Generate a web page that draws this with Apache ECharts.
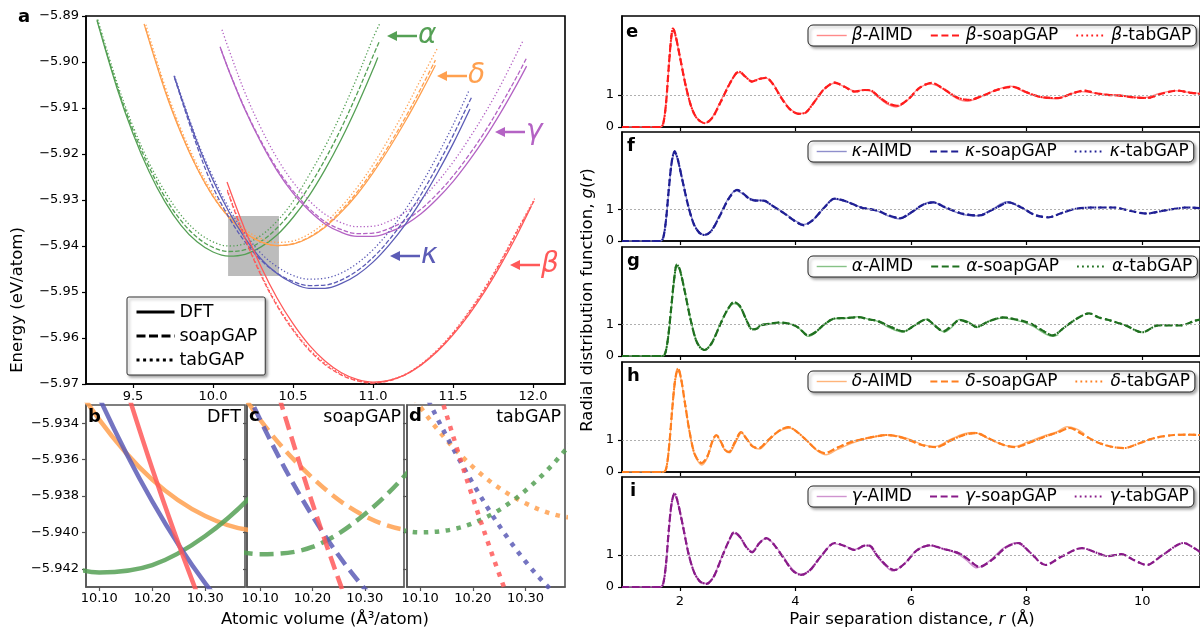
<!DOCTYPE html>
<html>
<head>
<meta charset="utf-8">
<script src="https://cdn.jsdelivr.net/npm/echarts@6/dist/echarts.min.js"></script>
<style>html,body{margin:0;padding:0;background:#fff}#c{width:1200px;height:631px}</style>
</head>
<body>
<div id="c"></div>
<script>
// ---------- Panel a-d : energy vs atomic volume, [V (A^3/atom), E (eV/atom)] ----------
const alphaDFT = [[9.275,-5.8910],[9.4,-5.9057],[9.5,-5.9156],[9.6,-5.9238],[9.7,-5.9304],[9.8,-5.9355],[9.9,-5.9391],[10.0,-5.9413],[10.1,-5.9422],[10.2,-5.9418],[10.3,-5.9402],[10.4,-5.9376],[10.5,-5.9338],[10.6,-5.9291],[10.7,-5.9234],[10.8,-5.9169],[10.9,-5.9096],[11.0,-5.9016],[11.03,-5.8990]];
const alphaSoap = [[9.275,-5.8908],[9.4,-5.9052],[9.5,-5.9148],[9.6,-5.9228],[9.7,-5.9294],[9.8,-5.9345],[9.9,-5.9381],[10.0,-5.9403],[10.1,-5.9412],[10.2,-5.9408],[10.3,-5.9390],[10.4,-5.9361],[10.5,-5.9321],[10.6,-5.9271],[10.7,-5.9212],[10.8,-5.9145],[10.9,-5.9069],[11.0,-5.8987],[11.04,-5.8955]];
const alphaTab = [[9.28,-5.8908],[9.4,-5.9045],[9.5,-5.9140],[9.6,-5.9219],[9.7,-5.9282],[9.8,-5.9333],[9.9,-5.9369],[10.0,-5.9391],[10.1,-5.9400],[10.2,-5.9395],[10.3,-5.9377],[10.4,-5.9346],[10.5,-5.9303],[10.6,-5.9246],[10.7,-5.9184],[10.8,-5.9113],[10.9,-5.9034],[11.0,-5.8948],[11.04,-5.8918]];

const deltaDFT = [[9.569,-5.8917],[9.7,-5.9063],[9.8,-5.9155],[9.9,-5.9231],[10.0,-5.9292],[10.1,-5.9338],[10.2,-5.9371],[10.3,-5.9391],[10.4,-5.9399],[10.5,-5.9396],[10.6,-5.9382],[10.7,-5.9359],[10.8,-5.9327],[10.9,-5.9288],[11.0,-5.9241],[11.1,-5.9188],[11.2,-5.9130],[11.3,-5.9067],[11.39,-5.9007]];
const deltaSoap = [[9.58,-5.8928],[9.7,-5.9060],[9.8,-5.9153],[9.9,-5.9230],[10.0,-5.9292],[10.1,-5.9338],[10.2,-5.9370],[10.3,-5.9391],[10.4,-5.9399],[10.5,-5.9395],[10.6,-5.9381],[10.7,-5.9357],[10.8,-5.9323],[10.9,-5.9283],[11.0,-5.9235],[11.1,-5.9181],[11.2,-5.9122],[11.3,-5.9057],[11.39,-5.8996]];
const deltaTab = [[9.58,-5.8919],[9.7,-5.9053],[9.8,-5.9146],[9.9,-5.9223],[10.0,-5.9285],[10.1,-5.9331],[10.2,-5.9364],[10.3,-5.9384],[10.4,-5.9392],[10.5,-5.9389],[10.6,-5.9374],[10.7,-5.9349],[10.8,-5.9315],[10.9,-5.9273],[11.0,-5.9223],[11.1,-5.9166],[11.2,-5.9104],[11.3,-5.9037],[11.4,-5.8972]];

const gammaDFT = [[10.044,-5.8967],[10.1,-5.9020],[10.2,-5.9104],[10.3,-5.9175],[10.4,-5.9236],[10.5,-5.9285],[10.6,-5.9323],[10.7,-5.9352],[10.8,-5.9370],[10.9,-5.9379],[11.0,-5.9379],[11.1,-5.9370],[11.2,-5.9354],[11.3,-5.9330],[11.4,-5.9298],[11.5,-5.9260],[11.6,-5.9215],[11.7,-5.9165],[11.8,-5.9109],[11.9,-5.9048],[11.96,-5.9009]];
const gammaSoap = [[10.05,-5.8973],[10.1,-5.9019],[10.2,-5.9102],[10.3,-5.9172],[10.4,-5.9232],[10.5,-5.9280],[10.6,-5.9318],[10.7,-5.9347],[10.8,-5.9364],[10.9,-5.9373],[11.0,-5.9372],[11.1,-5.9362],[11.2,-5.9345],[11.3,-5.9320],[11.4,-5.9287],[11.5,-5.9248],[11.6,-5.9202],[11.7,-5.9151],[11.8,-5.9093],[11.9,-5.9031],[11.96,-5.8991]];
const gammaTab = [[10.056,-5.8930],[10.1,-5.8974],[10.2,-5.9067],[10.3,-5.9144],[10.4,-5.9209],[10.5,-5.9261],[10.6,-5.9301],[10.7,-5.9331],[10.8,-5.9349],[10.9,-5.9358],[11.0,-5.9357],[11.1,-5.9346],[11.2,-5.9327],[11.3,-5.9299],[11.4,-5.9262],[11.5,-5.9218],[11.6,-5.9167],[11.7,-5.9111],[11.8,-5.9049],[11.94,-5.8952]];

const kappaDFT = [[9.756,-5.9030],[9.9,-5.9174],[10.0,-5.9257],[10.1,-5.9326],[10.2,-5.9383],[10.3,-5.9428],[10.4,-5.9460],[10.5,-5.9481],[10.6,-5.9492],[10.7,-5.9492],[10.8,-5.9482],[10.9,-5.9463],[11.0,-5.9435],[11.1,-5.9398],[11.2,-5.9354],[11.3,-5.9302],[11.4,-5.9243],[11.5,-5.9178],[11.606,-5.9102]];
const kappaSoap = [[9.76,-5.9035],[9.9,-5.9183],[10.0,-5.9272],[10.1,-5.9338],[10.2,-5.9391],[10.3,-5.9431],[10.4,-5.9459],[10.5,-5.9477],[10.6,-5.9486],[10.7,-5.9485],[10.8,-5.9474],[10.9,-5.9454],[11.0,-5.9425],[11.1,-5.9387],[11.2,-5.9341],[11.3,-5.9288],[11.4,-5.9227],[11.5,-5.9160],[11.6,-5.9088],[11.62,-5.9074]];
const kappaTab = [[9.76,-5.9031],[9.9,-5.9170],[10.0,-5.9250],[10.1,-5.9318],[10.2,-5.9373],[10.3,-5.9416],[10.4,-5.9445],[10.5,-5.9464],[10.6,-5.9472],[10.7,-5.9470],[10.8,-5.9459],[10.9,-5.9438],[11.0,-5.9408],[11.1,-5.9369],[11.2,-5.9322],[11.3,-5.9267],[11.4,-5.9205],[11.5,-5.9137],[11.6,-5.9062]];

const betaDFT = [[10.0875,-5.9261],[10.2,-5.9365],[10.3,-5.9445],[10.4,-5.9513],[10.5,-5.9569],[10.6,-5.9615],[10.7,-5.9650],[10.8,-5.9675],[10.9,-5.9690],[11.0,-5.9696],[11.1,-5.9692],[11.2,-5.9680],[11.3,-5.9659],[11.4,-5.9630],[11.5,-5.9593],[11.6,-5.9549],[11.7,-5.9498],[11.8,-5.9440],[11.9,-5.9376],[11.99,-5.9313]];
const betaSoap = [[10.09,-5.9281],[10.2,-5.9384],[10.3,-5.9464],[10.4,-5.9530],[10.5,-5.9583],[10.6,-5.9626],[10.7,-5.9658],[10.8,-5.9680],[10.9,-5.9693],[11.0,-5.9698],[11.1,-5.9693],[11.2,-5.9680],[11.3,-5.9658],[11.4,-5.9628],[11.5,-5.9590],[11.6,-5.9545],[11.7,-5.9493],[11.8,-5.9434],[11.9,-5.9369],[12.01,-5.9300]];
const betaTab = [[10.09,-5.9278],[10.2,-5.9381],[10.3,-5.9461],[10.4,-5.9527],[10.5,-5.9580],[10.6,-5.9623],[10.7,-5.9655],[10.8,-5.9678],[10.9,-5.9692],[11.0,-5.9697],[11.1,-5.9692],[11.2,-5.9679],[11.3,-5.9657],[11.4,-5.9626],[11.5,-5.9588],[11.6,-5.9542],[11.7,-5.9490],[11.8,-5.9431],[11.9,-5.9366],[12.01,-5.9297]];

// zoom-box shown in panel a (volume range, energy range)
const zoomBoxV = [10.094, 10.412];
const zoomBoxE = [-5.9465, -5.9335];

// ---------- Panels e-i : radial distribution functions, [r (A), g(r)] ----------
const betaAIMD = [[1.0,0],[1.66,0],[1.71,0.08],[1.76,0.7],[1.81,1.85],[1.85,2.7],[1.88,3.0],[1.92,2.85],[2.0,2.2],[2.1,1.32],[2.2,0.64],[2.3,0.27],[2.43,0.12],[2.56,0.3],[2.7,0.78],[2.85,1.32],[2.97,1.64],[3.03,1.69],[3.13,1.57],[3.25,1.43],[3.37,1.5],[3.49,1.52],[3.6,1.38],[3.75,0.95],[3.9,0.58],[4.05,0.42],[4.18,0.46],[4.33,0.8],[4.5,1.18],[4.68,1.36],[4.86,1.24],[5.03,1.12],[5.2,1.15],[5.3,1.12],[5.45,0.9],[5.6,0.7],[5.74,0.62],[5.92,0.8],[6.12,1.18],[6.33,1.34],[6.52,1.22],[6.78,0.9],[6.98,0.8],[7.22,0.95],[7.48,1.16],[7.72,1.27],[7.95,1.1],[8.2,0.94],[8.5,0.88],[8.75,1.02],[8.95,1.1],[9.15,1.06],[9.4,1.01],[9.65,0.98],[9.85,0.93],[10.05,0.92],[10.3,1.04],[10.55,1.13],[10.8,1.08],[11.0,1.04]];
const betaGAP = [[1.0,0],[1.66,0],[1.71,0.08],[1.76,0.7],[1.81,1.9],[1.85,2.75],[1.88,3.06],[1.92,2.9],[2.0,2.2],[2.1,1.3],[2.2,0.62],[2.3,0.26],[2.43,0.12],[2.56,0.28],[2.7,0.75],[2.85,1.3],[2.97,1.66],[3.03,1.72],[3.13,1.57],[3.25,1.41],[3.37,1.49],[3.49,1.53],[3.6,1.36],[3.75,0.92],[3.9,0.56],[4.05,0.41],[4.18,0.45],[4.33,0.78],[4.5,1.18],[4.68,1.38],[4.86,1.24],[5.03,1.1],[5.2,1.15],[5.3,1.14],[5.45,0.93],[5.6,0.74],[5.76,0.66],[5.95,0.86],[6.15,1.22],[6.36,1.37],[6.55,1.2],[6.8,0.92],[7.0,0.84],[7.25,0.98],[7.5,1.16],[7.76,1.25],[8.0,1.08],[8.25,0.93],[8.55,0.9],[8.8,1.05],[9.0,1.13],[9.2,1.05],[9.4,1.0],[9.65,0.97],[9.85,0.92],[10.08,0.9],[10.35,1.04],[10.6,1.13],[10.85,1.06],[11.0,1.03]];

const kappaAIMD = [[1.0,0],[1.66,0],[1.71,0.08],[1.76,0.62],[1.81,1.6],[1.86,2.45],[1.91,2.78],[1.96,2.6],[2.05,1.9],[2.15,1.1],[2.25,0.52],[2.35,0.25],[2.43,0.2],[2.55,0.35],[2.7,0.85],[2.85,1.38],[2.97,1.6],[3.08,1.5],[3.2,1.36],[3.31,1.3],[3.45,1.27],[3.6,1.12],[3.8,0.9],[4.0,0.64],[4.14,0.52],[4.3,0.66],[4.5,1.06],[4.66,1.33],[4.9,1.24],[5.12,1.08],[5.4,0.96],[5.6,0.8],[5.8,0.7],[6.0,0.88],[6.2,1.14],[6.36,1.24],[6.58,1.06],[6.9,0.84],[7.15,0.8],[7.4,1.0],[7.66,1.24],[7.9,1.06],[8.1,0.86]];
const kappaGAP = [[1.0,0],[1.66,0],[1.71,0.08],[1.76,0.65],[1.81,1.65],[1.86,2.5],[1.91,2.84],[1.96,2.62],[2.05,1.88],[2.15,1.08],[2.25,0.5],[2.35,0.24],[2.43,0.19],[2.55,0.33],[2.7,0.82],[2.85,1.35],[2.99,1.62],[3.1,1.5],[3.2,1.34],[3.31,1.28],[3.45,1.28],[3.6,1.12],[3.8,0.88],[4.0,0.62],[4.14,0.5],[4.3,0.66],[4.5,1.06],[4.68,1.34],[4.9,1.24],[5.12,1.07],[5.42,0.96],[5.6,0.82],[5.81,0.72],[6.0,0.9],[6.2,1.14],[6.39,1.22],[6.6,1.06],[6.9,0.86],[7.18,0.81],[7.42,1.0],[7.69,1.22],[7.92,1.05],[8.15,0.82],[8.38,0.75],[8.6,0.88],[8.85,1.02],[9.13,1.06],[9.5,1.06],[9.8,0.95],[10.08,0.87],[10.4,0.97],[10.77,1.06],[11.0,1.04]];

const alphaAIMD = [[1.0,0],[1.7,0],[1.75,0.1],[1.8,0.6],[1.85,1.45],[1.9,2.35],[1.95,2.85],[2.0,2.72],[2.08,2.1],[2.18,1.22],[2.28,0.52],[2.36,0.27],[2.43,0.2],[2.55,0.42],[2.7,1.02],[2.82,1.44],[2.94,1.66],[3.04,1.55],[3.15,1.15],[3.25,0.86],[3.33,0.88],[3.4,0.98],[3.55,1.02],[3.71,1.05],[3.9,1.02],[4.05,0.9],[4.22,0.62],[4.35,0.74],[4.5,1.0],[4.68,1.18],[4.88,1.2],[5.08,1.24],[5.3,1.15],[5.42,1.1],[5.62,0.9],[5.85,0.76],[6.05,0.95],[6.25,1.16],[6.45,0.9],[6.58,0.76],[6.7,0.9],[6.84,1.16],[7.0,1.08],[7.13,0.9],[7.35,1.1],[7.59,1.2],[7.93,1.08],[8.1,0.95],[8.45,0.62],[8.55,0.68]];
const alphaGAP = [[1.0,0],[1.7,0],[1.75,0.1],[1.8,0.62],[1.85,1.5],[1.9,2.4],[1.95,2.9],[2.0,2.74],[2.08,2.1],[2.18,1.2],[2.28,0.5],[2.36,0.25],[2.43,0.19],[2.55,0.4],[2.7,1.0],[2.82,1.45],[2.94,1.71],[3.04,1.58],[3.15,1.15],[3.25,0.84],[3.33,0.86],[3.4,0.97],[3.55,1.02],[3.71,1.06],[3.9,1.02],[4.05,0.9],[4.22,0.65],[4.35,0.76],[4.5,1.0],[4.68,1.19],[4.88,1.2],[5.08,1.23],[5.3,1.15],[5.42,1.11],[5.65,0.92],[5.87,0.78],[6.07,0.98],[6.27,1.16],[6.42,0.95],[6.56,0.78],[6.7,0.95],[6.84,1.14],[7.0,1.05],[7.13,0.92],[7.35,1.1],[7.59,1.22],[7.93,1.11],[8.1,1.0],[8.3,0.78],[8.45,0.65],[8.65,0.9],[8.85,1.16],[9.08,1.35],[9.25,1.22],[9.42,1.14],[9.71,0.97],[10.0,0.75],[10.28,0.97],[10.68,0.97],[10.9,1.11],[11.0,1.15]];

const deltaAIMD = [[1.0,0],[1.72,0],[1.77,0.15],[1.82,0.88],[1.87,1.95],[1.92,2.85],[1.97,3.18],[2.02,2.92],[2.09,2.15],[2.17,1.25],[2.26,0.52],[2.38,0.22],[2.48,0.46],[2.56,0.92],[2.63,1.14],[2.71,0.95],[2.78,0.68],[2.86,0.6],[2.96,0.9],[3.07,1.22],[3.16,1.05],[3.27,0.78],[3.38,0.72],[3.52,0.95],[3.66,1.2],[3.78,1.33],[3.9,1.38],[4.02,1.28],[4.22,0.95],[4.37,0.68],[4.53,0.54],[4.72,0.7],[4.97,0.9],[5.22,1.04],[5.42,1.12],[5.6,1.16],[5.8,1.12],[5.98,1.02],[6.2,0.86],[6.42,0.8],[6.68,1.02],[6.92,1.2],[7.1,1.24],[7.32,1.06],[7.58,0.86],[7.78,0.8],[8.02,0.94],[8.28,1.12],[8.52,1.26],[8.7,1.42],[8.85,1.36],[9.0,1.2]];
const deltaGAP = [[1.0,0],[1.72,0],[1.77,0.15],[1.82,0.9],[1.87,2.0],[1.92,2.9],[1.97,3.25],[2.02,2.95],[2.09,2.15],[2.17,1.25],[2.26,0.55],[2.38,0.28],[2.48,0.5],[2.56,0.95],[2.63,1.16],[2.71,0.95],[2.78,0.7],[2.85,0.63],[2.95,0.92],[3.06,1.25],[3.15,1.05],[3.26,0.8],[3.37,0.75],[3.5,0.95],[3.65,1.2],[3.76,1.34],[3.88,1.41],[4.0,1.3],[4.2,0.98],[4.35,0.72],[4.51,0.59],[4.7,0.74],[4.95,0.93],[5.2,1.05],[5.4,1.12],[5.59,1.16],[5.8,1.1],[5.97,1.0],[6.2,0.84],[6.44,0.78],[6.7,1.0],[6.95,1.18],[7.13,1.22],[7.35,1.05],[7.6,0.85],[7.81,0.78],[8.05,0.92],[8.3,1.1],[8.55,1.25],[8.75,1.38],[8.95,1.2],[9.2,0.95],[9.45,0.8],[9.69,0.75],[9.95,0.9],[10.2,1.06],[10.55,1.16],[10.8,1.17],[11.0,1.16]];

const gammaAIMD = [[1.0,0],[1.66,0],[1.71,0.08],[1.76,0.68],[1.81,1.75],[1.86,2.6],[1.91,2.88],[1.96,2.66],[2.05,1.95],[2.15,1.07],[2.25,0.47],[2.35,0.18],[2.46,0.11],[2.58,0.32],[2.72,0.92],[2.85,1.45],[2.94,1.68],[3.05,1.54],[3.15,1.26],[3.25,1.12],[3.38,1.4],[3.5,1.52],[3.62,1.36],[3.78,0.98],[3.95,0.56],[4.1,0.4],[4.25,0.54],[4.45,0.98],[4.66,1.36],[4.86,1.28],[5.03,1.18],[5.2,1.3],[5.28,1.28],[5.42,0.94],[5.57,0.64],[5.68,0.5],[5.88,0.72],[6.08,1.12],[6.3,1.3],[6.52,1.22],[6.8,1.05],[6.96,0.84],[7.14,0.6],[7.36,0.82],[7.6,1.22],[7.82,1.38],[7.98,1.22]];
const gammaGAP = [[1.0,0],[1.66,0],[1.71,0.08],[1.76,0.7],[1.81,1.8],[1.86,2.65],[1.91,2.94],[1.96,2.7],[2.05,1.95],[2.15,1.05],[2.25,0.45],[2.35,0.17],[2.46,0.1],[2.58,0.3],[2.72,0.9],[2.85,1.45],[2.94,1.72],[3.05,1.55],[3.15,1.25],[3.25,1.09],[3.38,1.38],[3.5,1.53],[3.62,1.35],[3.78,0.95],[3.95,0.52],[4.1,0.38],[4.25,0.52],[4.45,0.98],[4.68,1.38],[4.86,1.28],[5.03,1.16],[5.2,1.3],[5.28,1.3],[5.42,0.97],[5.57,0.68],[5.71,0.53],[5.9,0.75],[6.1,1.15],[6.33,1.31],[6.55,1.2],[6.84,1.05],[7.0,0.85],[7.18,0.63],[7.4,0.85],[7.65,1.25],[7.86,1.38],[8.05,1.1],[8.33,0.69],[8.6,0.95],[8.96,1.22],[9.2,1.08],[9.4,0.97],[9.64,1.03],[9.85,0.85],[10.08,0.69],[10.35,1.0],[10.72,1.38],[10.9,1.22],[11.0,1.1]];

// ---------- tick values ----------
const energyTicks = [-5.97,-5.96,-5.95,-5.94,-5.93,-5.92,-5.91,-5.90,-5.89];
const volumeTicks = [9.5,10.0,10.5,11.0,11.5,12.0];
const insetEnergyTicks = [-5.942,-5.940,-5.938,-5.936,-5.934];
const insetVolumeTicks = [10.10,10.20,10.30];
const rTicks = [2,4,6,8,10];
const gTicks = [0,1];

// ---------- styling ----------
const FONT = 'DejaVu Sans';
const EV_COL = {alpha:'#55a055', delta:'#ffa04f', gamma:'#b463c4', kappa:'#5c5cb6', beta:'#ff5959'};
const RDF_COL = {
  beta:  {aimd:'#ff8a8a', gap:'#ff1c1c'},
  kappa: {aimd:'#8f8fcc', gap:'#1f1f94'},
  alpha: {aimd:'#86c286', gap:'#1f701f'},
  delta: {aimd:'#ffb47a', gap:'#ff7f1f'},
  gamma: {aimd:'#cf93cf', gap:'#891a89'}
};

const series = [];
function addLine(name, data, gi, color, width, dash, opacity, z, smooth) {
  series.push({
    type:'line', name:name, data:data, xAxisIndex:gi, yAxisIndex:gi,
    symbol:'none', smooth: smooth == null ? 0.35 : smooth, clip:true, silent:true, animation:false,
    z: z || 3,
    lineStyle:{color:color, width:width, type:dash || 'solid', opacity: opacity == null ? 1 : opacity, cap:'butt', join:'round'},
    itemStyle:{color:color},
    emphasis:{disabled:true}
  });
}

// zoom box (panel a)
series.push({
  type:'line', name:'zoombox', data:[], xAxisIndex:0, yAxisIndex:0, symbol:'none', silent:true, z:1,
  markArea:{silent:true, itemStyle:{color:'#b5b5b5', opacity:0.9},
    data:[[{coord:[zoomBoxV[0], zoomBoxE[1]]},{coord:[zoomBoxV[1], zoomBoxE[0]]}]]}
});

// panel a lines
const evSets = [
  ['alpha', alphaDFT, alphaSoap, alphaTab],
  ['delta', deltaDFT, deltaSoap, deltaTab],
  ['gamma', gammaDFT, gammaSoap, gammaTab],
  ['kappa', kappaDFT, kappaSoap, kappaTab],
  ['beta',  betaDFT,  betaSoap,  betaTab]
];
evSets.forEach(function(s){
  const c = EV_COL[s[0]];
  addLine(s[0]+' DFT', s[1], 0, c, 1.3, 'solid', 1, 3);
  addLine(s[0]+' soap', s[2], 0, c, 1.3, [4.6,2.0], 1, 3);
  addLine(s[0]+' tab', s[3], 0, c, 1.3, [1.3,2.2], 1, 3);
});
// legend dummies for panel a
addLine('DFT', [], 0, '#000', 3, 'solid', 1, 3);
addLine('soapGAP', [], 0, '#000', 3, [9,3.5], 1, 3);
addLine('tabGAP', [], 0, '#000', 3, [3,3.6], 1, 3);

// insets b, c, d
const insetSets = [['delta', deltaDFT, deltaSoap, deltaTab],['alpha', alphaDFT, alphaSoap, alphaTab],['kappa', kappaDFT, kappaSoap, kappaTab],['beta', betaDFT, betaSoap, betaTab]];
insetSets.forEach(function(s){
  const c = EV_COL[s[0]];
  addLine(s[0]+' DFT b', s[1], 1, c, 4.5, 'solid', 0.85, 3);
  addLine(s[0]+' soap c', s[2], 2, c, 4.5, [14,7], 0.85, 3);
  addLine(s[0]+' tab d', s[3], 3, c, 4.5, [4.5,6.5], 0.85, 3);
});

// RDF panels
const rdfSets = [
  ['beta', '\u03b2', betaAIMD, betaGAP],
  ['kappa','\u03ba', kappaAIMD, kappaGAP],
  ['alpha','\u03b1', alphaAIMD, alphaGAP],
  ['delta','\u03b4', deltaAIMD, deltaGAP],
  ['gamma','\u03b3', gammaAIMD, gammaGAP]
];
rdfSets.forEach(function(s, i){
  const gi = 4 + i;
  const col = RDF_COL[s[0]];
  series.push({type:'line', name:'ref'+i, data:[], xAxisIndex:gi, yAxisIndex:gi, symbol:'none', silent:true, z:1,
    markLine:{silent:true, symbol:'none', label:{show:false}, animation:false,
      lineStyle:{color:'#9a9a9a', type:[2,2], width:0.8}, data:[{yAxis:1}]}});
  addLine(s[1]+'-AIMD', s[2], gi, col.aimd, 1.4, 'solid', 1, 2, 0.3);
  addLine(s[1]+'-tabGAP', s[3], gi, col.gap, 2.0, [1.8,3.2], 1, 3, 0.3);
  addLine(s[1]+'-soapGAP', s[3], gi, col.gap, 2.2, [7,3.6], 1, 4, 0.3);
});

// ---------- grids & axes ----------
const grids = [
  {left:86, top:16, width:479, height:368, borderColor:'#000', borderWidth:1.6},
  {left:86, top:405, width:159, height:182, borderColor:'#555', borderWidth:1.6},
  {left:247, top:405, width:157, height:182, borderColor:'#555', borderWidth:1.6},
  {left:407, top:405, width:158, height:182, borderColor:'#555', borderWidth:1.6},
  {left:622, top:16, width:585, height:111, borderColor:'#000', borderWidth:1.5},
  {left:622, top:132, width:585, height:109, borderColor:'#000', borderWidth:1.5},
  {left:622, top:247, width:585, height:109, borderColor:'#000', borderWidth:1.5},
  {left:622, top:362, width:585, height:110, borderColor:'#000', borderWidth:1.5},
  {left:622, top:477, width:585, height:110, borderColor:'#000', borderWidth:1.5}
].map(function(g){ return Object.assign({show:true, backgroundColor:'transparent', containLabel:false}, g); });

function axisBase(gi, min, max, lineColor, ticks, showLabel, fmt, margin) {
  return {
    gridIndex:gi, type:'value', min:min, max:max, scale:true,
    axisLine:{show:true, onZero:false, lineStyle:{color:lineColor, width:1.5}},
    axisTick:{show:true, customValues:ticks, length:4, lineStyle:{color:lineColor, width:1.2}},
    axisLabel:{show:showLabel, customValues:ticks, formatter:fmt, fontSize:13, color:'#000', fontFamily:FONT, margin:margin},
    splitLine:{show:false}, minorTick:{show:false}
  };
}
const fmtE2 = function(v){ return '\u2212' + Math.abs(v).toFixed(2); };
const fmtE3 = function(v){ return '\u2212' + Math.abs(v).toFixed(3); };
const fmtV1 = function(v){ return v.toFixed(1); };
const fmtV2 = function(v){ return v.toFixed(2); };
const fmtI = function(v){ return String(Math.round(v)); };

const xAxis = [
  axisBase(0, 9.206, 12.2, '#000', volumeTicks, true, fmtV1, 6),
  axisBase(1, 10.075, 10.375, '#555', insetVolumeTicks, true, fmtV2, 5),
  axisBase(2, 10.075, 10.375, '#555', insetVolumeTicks, true, fmtV2, 5),
  axisBase(3, 10.075, 10.375, '#555', insetVolumeTicks, true, fmtV2, 5)
];
const yAxis = [
  axisBase(0, -5.97, -5.89, '#000', energyTicks, true, fmtE2, 7),
  axisBase(1, -5.943, -5.933, '#555', insetEnergyTicks, true, fmtE3, 7),
  axisBase(2, -5.943, -5.933, '#555', insetEnergyTicks, false, fmtE3, 7),
  axisBase(3, -5.943, -5.933, '#555', insetEnergyTicks, false, fmtE3, 7)
];
for (let i = 0; i < 5; i++) {
  xAxis.push(axisBase(4+i, 1, 11, '#000', rTicks, i === 4, fmtI, 8));
  yAxis.push(axisBase(4+i, 0, 3.45, '#000', gTicks, true, fmtI, 8));
}

// ---------- legends ----------
const legendShadow = {shadowColor:'rgba(0,0,0,0.35)', shadowBlur:3, shadowOffsetX:2, shadowOffsetY:2};
const legends = [Object.assign({
  data:['DFT','soapGAP','tabGAP'], orient:'vertical', left:127, top:297,
  itemWidth:38, itemHeight:14, itemGap:6, padding:[6,8,6,8], selectedMode:false,
  backgroundColor:'#fff', borderColor:'#333', borderWidth:1, borderRadius:2,
  textStyle:{fontSize:17.5, color:'#000', fontFamily:FONT},
  itemStyle:{opacity:0}, lineStyle:{width:'inherit'}
}, legendShadow)];
const legendTops = [25, 141, 256, 371, 486];
rdfSets.forEach(function(s, i){
  legends.push(Object.assign({
    data:[s[1]+'-AIMD', s[1]+'-soapGAP', s[1]+'-tabGAP'], orient:'horizontal', left:808, top:legendTops[i],
    itemWidth:30, itemHeight:14, itemGap:17, padding:[2,5,2,8], selectedMode:false,
    backgroundColor:'#fff', borderColor:'#222', borderWidth:1, borderRadius:5,
    textStyle:{fontSize:17, color:'#000', fontFamily:FONT, rich:{g:{fontSize:17, fontStyle:'italic', fontFamily:FONT, color:'#000'}}},
    formatter:function(name){ return '{g|' + name.charAt(0) + '}' + name.slice(1); },
    itemStyle:{opacity:0}, lineStyle:{width:'inherit'}
  }, legendShadow));
});

// ---------- annotations ----------
const g = [];
function txt(x, y, text, font, opts) {
  g.push(Object.assign({type:'text', x:x, y:y, silent:true, z:100,
    style:Object.assign({text:text, font:font, fill:'#000', align:'left', verticalAlign:'middle'}, (opts && opts.style) || {})},
    (opts && opts.el) || {}));
}
// panel letters
[['a',18,17],['b',88,417],['c',249,416],['d',409,416],['e',626,32],['f',627,146],['g',627,261],['h',627,376],['i',630,491]].forEach(function(p){
  txt(p[1], p[2], p[0], 'bold 18px "' + FONT + '"');
});
txt(241, 417, 'DFT', '17.5px "' + FONT + '"', {style:{align:'right'}});
txt(401, 417, 'soapGAP', '17.5px "' + FONT + '"', {style:{align:'right'}});
txt(561, 417, 'tabGAP', '17.5px "' + FONT + '"', {style:{align:'right'}});
// axis titles
txt(18, 300, 'Energy (eV/atom)', '16.5px "' + FONT + '"', {style:{align:'center'}, el:{rotation:Math.PI/2}});
txt(325, 620, 'Atomic volume (\u00c5\u00b3/atom)', '16.5px "' + FONT + '"', {style:{align:'center'}});
g.push({type:'text', x:588, y:300, rotation:Math.PI/2, silent:true, z:100,
  style:{text:'{n|Radial distribution function, }{i|g}{n|(}{i|r}{n|)}', align:'center', verticalAlign:'middle',
    rich:{n:{fontSize:16.5, fontFamily:FONT, fill:'#000'}, i:{fontSize:16.5, fontFamily:FONT, fontStyle:'italic', fill:'#000'}}}});
g.push({type:'text', x:912, y:620, silent:true, z:100,
  style:{text:'{n|Pair separation distance, }{i|r}{n| (\u00c5)}', align:'center', verticalAlign:'middle',
    rich:{n:{fontSize:16.5, fontFamily:FONT, fill:'#000'}, i:{fontSize:16.5, fontFamily:FONT, fontStyle:'italic', fill:'#000'}}}});
// phase arrows in panel a
[['\u03b1', 'alpha', 387, 36], ['\u03b4', 'delta', 437, 76], ['\u03b3', 'gamma', 495, 132], ['\u03ba', 'kappa', 390, 256], ['\u03b2', 'beta', 510, 265]].forEach(function(a){
  const col = EV_COL[a[1]], hx = a[2], y = a[3];
  g.push({type:'line', silent:true, z:100, shape:{x1:hx+8, y1:y, x2:hx+30, y2:y}, style:{stroke:col, lineWidth:2.5}});
  g.push({type:'polygon', silent:true, z:100, shape:{points:[[hx,y],[hx+10,y-5],[hx+10,y+5]]}, style:{fill:col}});
  txt(hx+31, y, a[0], 'italic 28px "' + FONT + '"', {style:{fill:col}});
});

const chart = echarts.init(document.getElementById('c'), null, {renderer:'canvas', width:1200, height:631});
chart.setOption({
  animation:false,
  backgroundColor:'#fff',
  textStyle:{fontFamily:FONT},
  grid:grids, xAxis:xAxis, yAxis:yAxis,
  legend:legends,
  series:series,
  graphic:{elements:g}
});
</script>
</body>
</html>
